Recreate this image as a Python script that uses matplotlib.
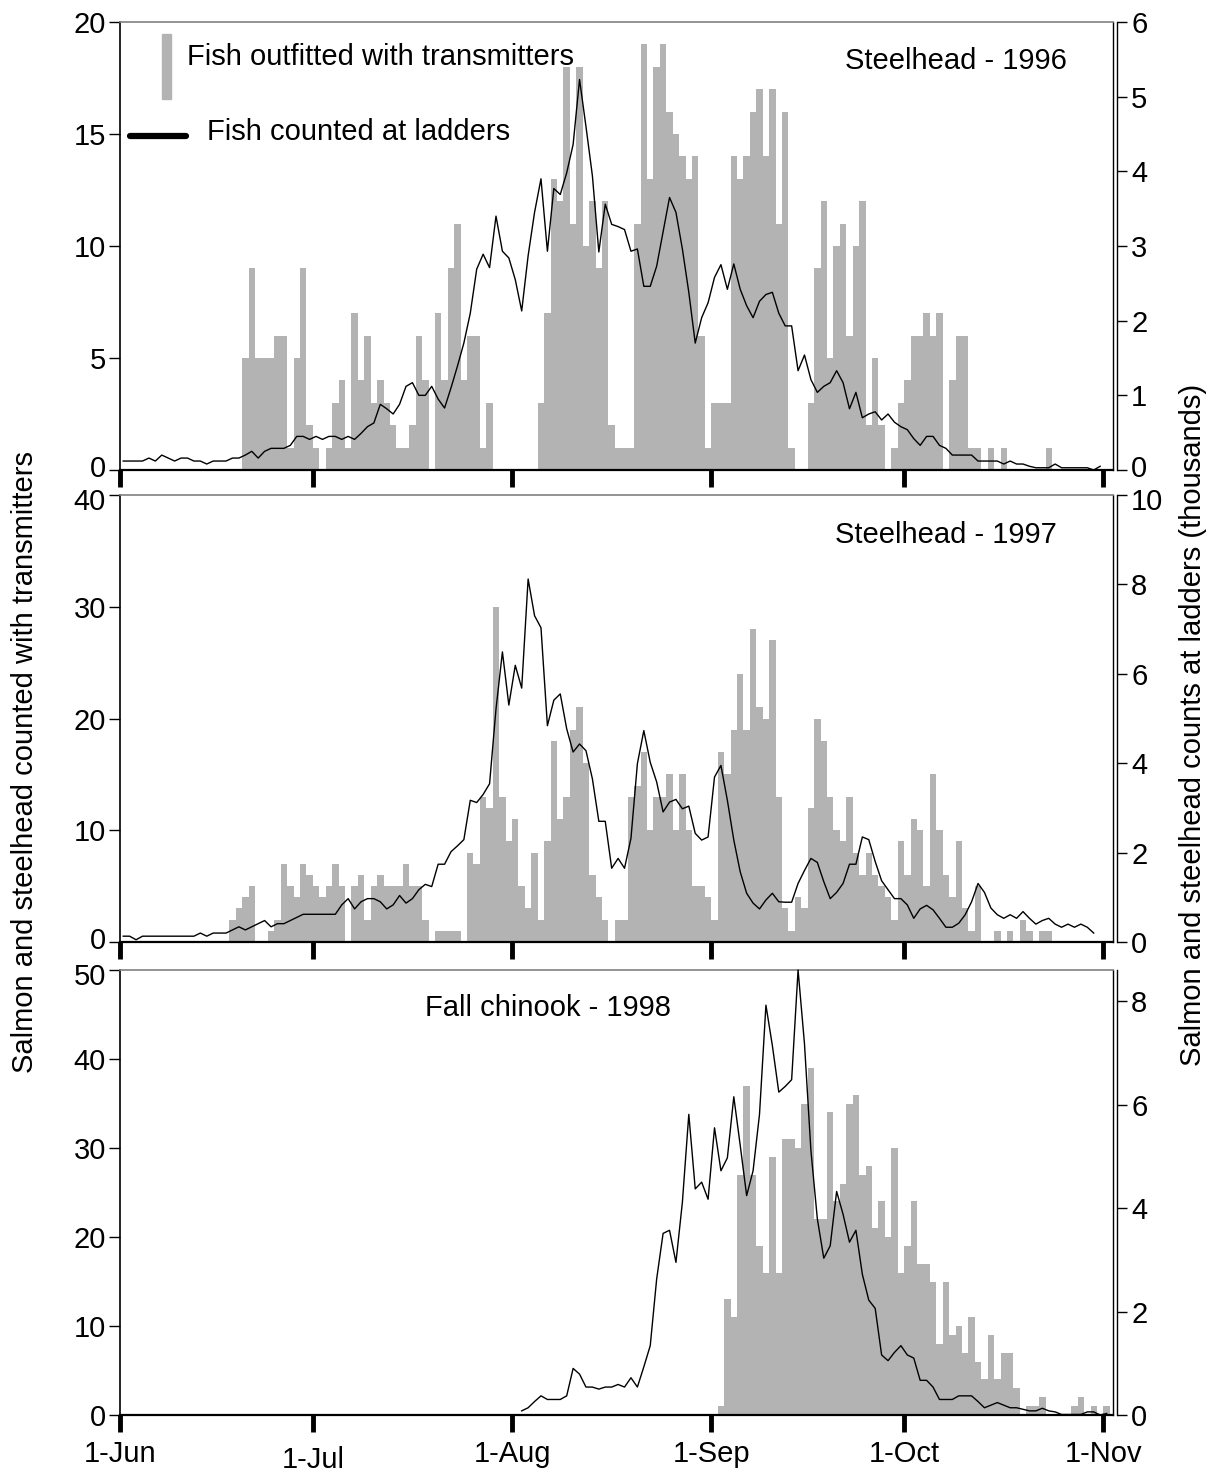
import numpy as np
import matplotlib
matplotlib.use('Agg')
import matplotlib.pyplot as plt
from matplotlib.patches import Rectangle
from matplotlib.lines import Line2D

plt.rcParams['font.family'] = ['Liberation Sans', 'DejaVu Sans']

# ---------------------------------------------------------------------
# Datos: días contados desde el 1 de junio
# ---------------------------------------------------------------------
date_labels = ['1-Jun', '1-Jul', '1-Aug', '1-Sep', '1-Oct', '1-Nov']
date_days = [0, 30, 61, 92, 122, 153]

# peces marcados con transmisor (barras), un valor por día desde d0
tags_1996 = [0] * 19 + [
    5, 9, 5, 5, 5, 6, 6, 1, 5, 9, 2, 1, 0, 1, 3, 4, 1, 7, 4, 6, 3, 4, 3, 2, 1, 1, 2, 6, 4, 0, 7, 4, 9,
    11, 4, 6, 6, 1, 3, 0, 0, 0, 0, 0, 0, 0, 3, 7, 13, 12, 18, 11, 18, 10, 12, 9, 12, 2, 1, 1, 1,
    11, 19, 13, 18, 19, 16, 15, 14, 13, 14, 6, 1, 3, 3, 3, 14, 13, 14, 16, 17, 14, 17,
    11, 16, 1, 0, 0, 3, 9, 12, 5, 10, 11, 6, 10, 12, 2, 5, 2, 0, 1, 3,
    4, 6, 6, 7, 6, 7, 0, 4, 6, 6, 1, 1, 0, 1, 0, 1, 0, 0, 0, 0, 0, 0, 1, 0, 0, 0, 0, 0, 0, 0, 0]

tags_1997 = [0] * 17 + [
    2, 3, 4, 5, 0, 0, 1, 2, 7, 5, 4, 7, 6, 5, 4, 5, 7, 5, 0, 5, 6, 2, 5, 6, 5, 5, 5, 7, 5, 5, 2, 0,
    1, 1, 1, 1,
    0, 8, 7, 13, 12, 30, 13, 9, 11, 5, 3, 8, 2, 9, 18, 11, 13, 19, 21, 16, 6, 4, 2, 0, 2, 2,
    13, 14, 17, 10, 13, 13, 15, 10, 15, 10, 5, 5, 4, 2, 17, 15, 19, 24, 19, 28, 21, 20, 27, 13,
    3, 1, 4, 3, 12, 20, 18, 13, 10, 9, 13, 8, 6, 8, 6, 5, 4, 2, 9, 6,
    11, 10, 5, 15, 10, 6, 4, 9, 3, 1, 5, 0, 0, 1, 0, 1, 0, 2, 1, 0, 1, 1, 0, 0, 0, 0, 0, 0, 0, 0]

tags_1998 = [0] * 93 + [
    1, 13, 11, 27, 37, 27, 19, 16, 29, 16, 31, 31, 30, 35, 39, 22, 22, 34, 24, 26,
    35, 36, 27, 28, 21, 24, 20, 30, 16, 19, 24, 17, 17, 15, 8, 15, 9, 10, 7, 11,
    6, 4, 9, 4, 7, 7, 3, 0, 1, 1, 2, 0, 0, 0, 0, 1, 2, 0, 1, 0, 1]

# conteos en escaleras (miles), un valor por día
ladder_1996 = [
    0.12, 0.12, 0.12, 0.12, 0.16, 0.12, 0.2, 0.16, 0.12, 0.16, 0.16, 0.12, 0.12, 0.08, 0.12, 0.12,
    0.12, 0.16, 0.16, 0.2, 0.25, 0.16, 0.25, 0.29, 0.29, 0.29, 0.33, 0.45, 0.45, 0.41, 0.45, 0.41,
    0.45, 0.45, 0.41, 0.45, 0.41, 0.49, 0.58, 0.63, 0.88, 0.82, 0.75, 0.88, 1.12, 1.17, 1.0, 1.0,
    1.12, 0.95, 0.83, 1.1,
    1.39, 1.7, 2.1, 2.69, 2.89, 2.71, 3.4, 2.93, 2.84, 2.55, 2.13, 2.87, 3.45, 3.9, 2.93, 3.77,
    3.69, 3.98, 4.36, 5.23, 4.6, 3.94, 2.92, 3.56, 3.29, 3.26, 3.22, 2.93, 2.96, 2.46, 2.46, 2.73,
    3.19, 3.65, 3.45, 2.96, 2.38, 1.7, 2.04, 2.24, 2.58, 2.75, 2.42, 2.76, 2.42, 2.2, 2.04, 2.26,
    2.35, 2.38, 2.1,
    1.93, 1.93, 1.33, 1.54, 1.21, 1.04, 1.12, 1.17, 1.33, 1.17, 0.82, 1.04, 0.7, 0.75, 0.78, 0.67,
    0.75, 0.64, 0.58, 0.54, 0.42, 0.33, 0.45, 0.45, 0.33, 0.29, 0.2, 0.2, 0.2, 0.2, 0.12, 0.12,
    0.12, 0.12, 0.08, 0.12, 0.08, 0.08, 0.05, 0.03, 0.03, 0.03, 0.08, 0.03, 0.03, 0.03, 0.03, 0.03,
    0.0, 0.05]

ladder_1997 = [
    0.13, 0.13, 0.05, 0.13, 0.13, 0.13, 0.13, 0.13, 0.13, 0.13, 0.13, 0.13, 0.2, 0.13, 0.2, 0.2,
    0.2, 0.27, 0.34, 0.27, 0.34, 0.41, 0.48, 0.34, 0.41, 0.41, 0.48, 0.55, 0.62, 0.62, 0.62, 0.62,
    0.62, 0.62, 0.83, 0.97, 0.74, 0.9, 0.97, 0.97, 0.9, 0.74, 0.83, 1.04, 0.87, 0.97, 1.17, 1.29,
    1.24, 1.74, 1.74, 2.02,
    2.15, 2.29, 3.17, 3.12, 3.3, 3.54, 5.21, 6.49, 5.3, 6.19, 5.68, 8.12, 7.3, 7.03, 4.84, 5.41,
    5.55, 4.77, 4.25, 4.43, 4.28, 3.65, 2.7, 2.7, 1.65, 1.87, 1.65, 2.32, 3.99, 4.73, 4.02, 3.58,
    2.91, 3.13, 3.19, 2.98, 3.04, 2.43, 2.28, 2.35, 3.69, 3.95, 3.17, 2.28, 1.57, 1.09, 0.87, 0.74,
    0.94, 1.09, 0.9,
    0.89, 0.89, 1.31, 1.6, 1.87, 1.78, 1.35, 0.97, 1.11, 1.31, 1.74, 1.74, 2.35, 2.29, 1.8, 1.37,
    1.17, 0.97, 0.97, 0.83, 0.53, 0.74, 0.82, 0.72, 0.53, 0.33, 0.33, 0.42, 0.61, 0.9, 1.31, 1.11,
    0.76, 0.61, 0.53, 0.61, 0.53, 0.68, 0.53, 0.4, 0.48, 0.53, 0.4, 0.33, 0.4, 0.33, 0.4, 0.33, 0.2]

ladder_1998_start = 62
ladder_1998 = [
    0.08, 0.14, 0.26, 0.37, 0.3, 0.3, 0.3, 0.37, 0.9, 0.79, 0.54, 0.54, 0.5, 0.54, 0.54, 0.59,
    0.54, 0.72, 0.54, 0.93, 1.34, 2.63, 3.51, 3.57, 2.95, 4.11, 5.81, 4.37, 4.5, 4.17, 5.55, 4.72,
    4.97, 6.15, 5.21, 4.24, 4.72, 5.81, 7.92, 7.14, 6.24,
    6.35, 6.48, 8.6, 7.17, 5.11, 3.79, 3.03, 3.27, 4.32, 3.88, 3.34, 3.57, 2.72, 2.22, 2.06, 1.16,
    1.05, 1.21, 1.34, 1.16, 1.1, 0.67, 0.67, 0.54, 0.3, 0.3, 0.3, 0.37, 0.37, 0.37, 0.26, 0.14,
    0.19, 0.24, 0.19, 0.14, 0.14, 0.11, 0.08, 0.08, 0.13, 0.08, 0.06, 0.01, 0.01, 0.01, 0.01, 0.06,
    0.06, 0.0, 0.03]

panel_titles = ['Steelhead - 1996', 'Steelhead - 1997', 'Fall chinook - 1998']
left_limits = [20, 40, 50]
left_ticks = [[0, 5, 10, 15, 20], [0, 10, 20, 30, 40], [0, 10, 20, 30, 40, 50]]
right_limits = [6, 10, 8.6]
right_ticks = [[0, 1, 2, 3, 4, 5, 6], [0, 2, 4, 6, 8, 10], [0, 2, 4, 6, 8]]

# ---------------------------------------------------------------------
# Figura
# ---------------------------------------------------------------------
W, H = 1213, 1473
fig = plt.figure(figsize=(W / 100, H / 100), dpi=100)

BAR_GRAY = '#b3b3b3'
FS = 21

# posiciones de los paneles en píxeles (izq, arriba, der, abajo)
boxes = [(120, 22, 1113, 470), (120, 495, 1113, 942), (120, 970, 1113, 1415)]
title_pos = [(0.954, 0.912, 'right'), (0.943, 0.910, 'right'), (0.307, 0.915, 'left')]

tags_all = [tags_1996, tags_1997, tags_1998]
ladder_all = [
    (np.arange(len(ladder_1996)), ladder_1996),
    (np.arange(len(ladder_1997)), ladder_1997),
    (np.arange(len(ladder_1998)) + ladder_1998_start, ladder_1998),
]

# etiquetas de los extremos que chocan entre paneles: se separan un poco
# (panel, lado, índice del tick, desplazamiento vertical en puntos)
shifted = [(0, 'left', 0, 3), (1, 'left', -1, -3), (1, 'left', 0, 3), (2, 'left', -1, -3),
           (0, 'right', 0, 3), (1, 'right', -1, -3)]


def fmt(v):
    return str(int(v)) if float(v).is_integer() else str(v)


def edge_label(ax, text, yfrac, side, dy):
    if side == 'left':
        ax.annotate(text, xy=(0, yfrac), xycoords='axes fraction', xytext=(-10, dy),
                    textcoords='offset points', ha='right', va='center_baseline',
                    fontsize=FS)
    else:
        ax.annotate(text, xy=(1, yfrac), xycoords='axes fraction', xytext=(13, dy),
                    textcoords='offset points', ha='left', va='center_baseline',
                    fontsize=FS)


axes = []
for i in range(3):
    x0, y0, x1, y1 = boxes[i]
    ax = fig.add_axes([x0 / W, 1 - y1 / H, (x1 - x0) / W, (y1 - y0) / H])
    tags = tags_all[i]
    ax.bar(np.arange(len(tags)), tags, width=1.0, align='edge', color=BAR_GRAY,
           linewidth=0, zorder=1)
    ax.set_xlim(0, 154.5)
    ax.set_ylim(0, left_limits[i])
    ax.set_xticks(date_days)
    if i == 2:
        ax.set_xticklabels(date_labels)
    else:
        ax.set_xticklabels([])
    ax.tick_params(axis='x', direction='out', length=12, width=3.5, color='black',
                   labelsize=FS, pad=6)
    ax.tick_params(axis='y', direction='out', length=8, width=1, labelsize=FS, pad=2)
    ax.spines['left'].set_linewidth(1.2)
    ax.spines['bottom'].set_linewidth(1.6)
    ax.spines['top'].set_color('#808080')
    ax.spines['top'].set_linewidth(1.2)
    ax.spines['right'].set_linewidth(1.0)

    ax2 = ax.twinx()
    dx, vals = ladder_all[i]
    ax2.plot(dx + 0.5, vals, color='black', lw=1.0, zorder=3, clip_on=False)
    ax2.set_ylim(0, right_limits[i])
    ax2.tick_params(axis='y', direction='out', length=7, width=1, labelsize=FS, pad=3)
    for s in ['left', 'top', 'bottom']:
        ax2.spines[s].set_visible(False)
    ax2.spines['right'].set_position(('outward', 3))
    ax2.spines['right'].set_linewidth(1.0)

    # etiquetas de los ejes y, con los extremos desplazados donde hace falta
    for side, a, ticks, lim in [('left', ax, left_ticks[i], left_limits[i]),
                                ('right', ax2, right_ticks[i], right_limits[i])]:
        labels = [fmt(t) for t in ticks]
        for (p, sd, k, dy) in shifted:
            if p == i and sd == side:
                edge_label(ax, labels[k], ticks[k] / lim, side, dy)
                labels[k] = ''
        a.set_yticks(ticks)
        a.set_yticklabels(labels)

    tx, ty, ha = title_pos[i]
    ax.text(tx, ty, panel_titles[i], transform=ax.transAxes, ha=ha, va='center',
            fontsize=FS)
    axes.append(ax)

# en el original la etiqueta 1-Jul queda algo más baja que las demás
jul_label = axes[2].get_xticklabels()[1]
jul_label.set_y(-6 / 445)

# leyenda dibujada a mano en el primer panel
ax = axes[0]
ax.add_patch(Rectangle((0.0423, 0.828), 0.0095, 0.145, transform=ax.transAxes,
                       color=BAR_GRAY, clip_on=False, zorder=5))
ax.text(0.0675, 0.922, 'Fish outfitted with transmitters', transform=ax.transAxes,
        va='center', ha='left', fontsize=FS)
ax.add_line(Line2D([0.01, 0.066], [0.7455, 0.7455], transform=ax.transAxes,
                   color='black', lw=4.5, solid_capstyle='round', zorder=5))
ax.text(0.0876, 0.754, 'Fish counted at ladders', transform=ax.transAxes,
        va='center', ha='left', fontsize=FS)

fig.text(25 / W, 1 - 762 / H, 'Salmon and steelhead counted with transmitters',
         rotation=90, ha='center', va='center', fontsize=FS)
fig.text(1193 / W, 1 - 725 / H, 'Salmon and steelhead counts at ladders (thousands)',
         rotation=90, ha='center', va='center', fontsize=FS)

fig.savefig('out.png', dpi=100)
